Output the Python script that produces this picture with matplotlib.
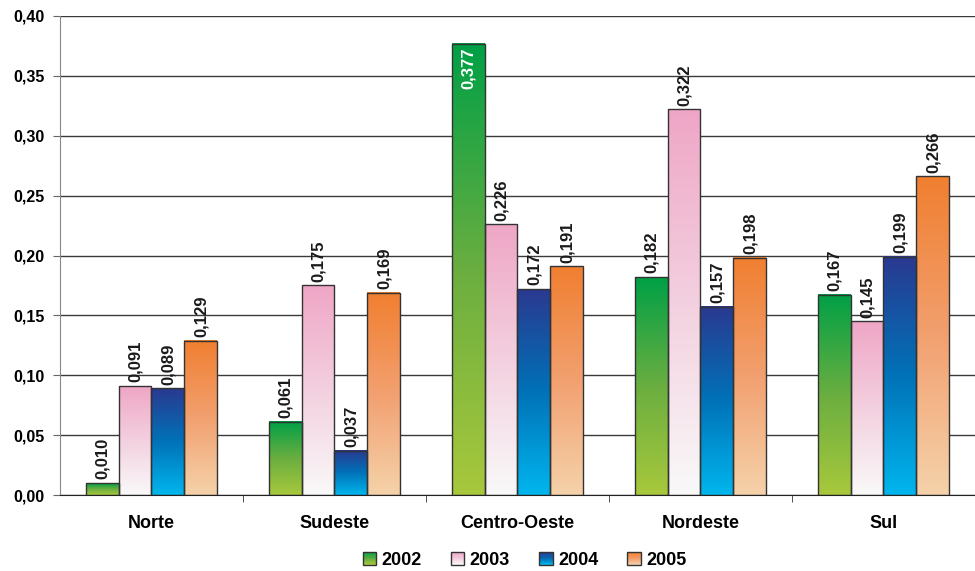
import numpy as np
import matplotlib
matplotlib.use('Agg')
import matplotlib.pyplot as plt
from matplotlib.colors import LinearSegmentedColormap
from matplotlib.patches import Rectangle
from matplotlib.legend_handler import HandlerBase

plt.rcParams['font.family'] = ['Liberation Sans', 'DejaVu Sans']
plt.rcParams['font.weight'] = 'bold'

regions = ['Norte', 'Sudeste', 'Centro-Oeste', 'Nordeste', 'Sul']
years = ['2002', '2003', '2004', '2005']
v2002 = [0.010, 0.061, 0.377, 0.182, 0.167]
v2003 = [0.091, 0.175, 0.226, 0.322, 0.145]
v2004 = [0.089, 0.037, 0.172, 0.157, 0.199]
v2005 = [0.129, 0.169, 0.191, 0.198, 0.266]
series = [v2002, v2003, v2004, v2005]

# gradient stops, bottom -> top
grads = [
    ['#a8c83c', '#6aae40', '#00a046'],
    ['#f9f9f9', '#f3d0df', '#efa6c6'],
    ['#00b6ee', '#0072b8', '#2a3990'],
    ['#f5d2aa', '#f2a070', '#f07f30'],
]
cmaps = [LinearSegmentedColormap.from_list('g%d' % i, g) for i, g in enumerate(grads)]

fig = plt.figure(figsize=(9.75, 5.71), dpi=100)
ax = fig.add_axes([0.0615, 0.133, 0.9385, 0.839])

grad_img = np.linspace(0, 1, 256).reshape(-1, 1)
width = 0.18
x = np.arange(len(regions))
for j, vals in enumerate(series):
    offs = (j - 1.5) * width
    for i, v in enumerate(vals):
        x0 = x[i] + offs - width / 2
        ax.imshow(grad_img, cmap=cmaps[j], origin='lower', aspect='auto',
                  extent=(x0, x0 + width, 0, v), zorder=2, interpolation='bilinear')
        ax.add_patch(Rectangle((x0, 0), width, v, fill=False, edgecolor='#333333',
                               linewidth=1.0, zorder=3))
        lbl = ('%.3f' % v).replace('.', ',')
        if v > 0.35:
            ax.text(x[i] + offs, v - 0.003, lbl, rotation=90, ha='center', va='top',
                    fontsize=12, fontweight='bold', color='white', zorder=4)
        else:
            ax.text(x[i] + offs, v + 0.003, lbl, rotation=90, ha='center', va='bottom',
                    fontsize=12, fontweight='bold', color='#1a1a1a', zorder=4)

ax.set_xlim(-0.5, len(regions) - 0.5)
ax.set_ylim(0, 0.40)
ax.set_yticks(np.arange(0, 0.401, 0.05))
ax.set_yticklabels([('%.2f' % t).replace('.', ',') for t in np.arange(0, 0.401, 0.05)],
                   fontsize=11.5, fontweight='bold')
ax.yaxis.grid(True, color='#3a3a3a', linewidth=1.0, zorder=1)
ax.set_axisbelow(True)
ax.set_xticks(x)
ax.set_xticklabels(regions, fontsize=13, fontweight='bold')
ax.tick_params(axis='x', length=0, pad=14)
ax.set_xticks(np.arange(0.5, len(regions) - 0.5, 1), minor=True)
ax.tick_params(axis='x', which='minor', length=5, color='#333333', direction='out')
ax.tick_params(axis='y', length=5, color='#666666', pad=6)
for s in ['top', 'right']:
    ax.spines[s].set_visible(False)
ax.spines['left'].set_color('#888888')
ax.spines['bottom'].set_color('#222222')


class GradHandler(HandlerBase):
    def __init__(self, cmap):
        super().__init__()
        self.cmap = cmap

    def create_artists(self, legend, orig_handle, xdescent, ydescent, width, height, fontsize, trans):
        arts = []
        n = 12
        s = height
        x0 = xdescent * -1 + width - s
        for k in range(n):
            c = self.cmap(k / (n - 1))
            r = Rectangle((x0, -ydescent + s * k / n), s, s / n + 0.3, facecolor=c,
                          edgecolor='none', transform=trans)
            arts.append(r)
        arts.append(Rectangle((x0, -ydescent), s, s, fill=False, edgecolor='#333333',
                              linewidth=1.0, transform=trans))
        return arts


handles = [Rectangle((0, 0), 1, 1) for _ in years]
fig.legend(handles, years, loc='lower center', bbox_to_anchor=(0.538, -0.025), ncol=4,
           frameon=False, prop={'weight': 'bold', 'size': 13},
           handler_map={h: GradHandler(cmaps[k]) for k, h in enumerate(handles)},
           handlelength=0.75, handleheight=0.75, handletextpad=0.3, columnspacing=1.6)

fig.savefig('out.png', dpi=100)
